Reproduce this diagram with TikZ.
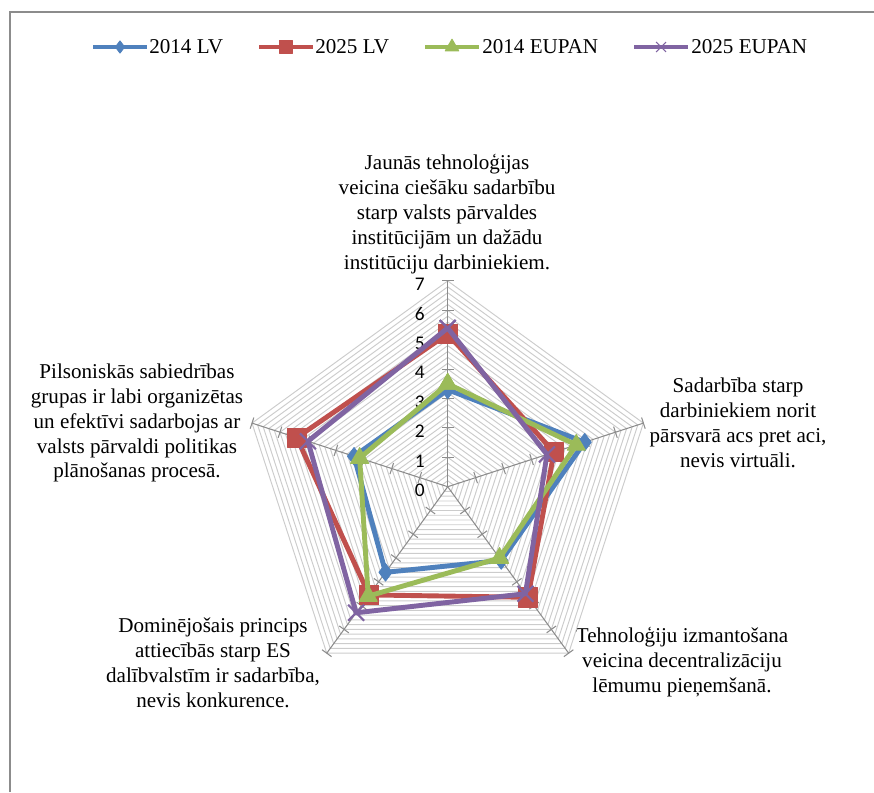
\documentclass[tikz,border=0pt]{standalone}
\usepackage{fontspec}
\setmainfont{Liberation Serif}
\newfontfamily\calib{Carlito}
\usetikzlibrary{plotmarks}
\definecolor{lvblue}{HTML}{4F81BD}
\definecolor{lvred}{HTML}{C0504D}
\definecolor{eugreen}{HTML}{9BBB59}
\definecolor{eupurple}{HTML}{8064A2}

\begin{document}
\begin{tikzpicture}[
			x = 0.02cm, y = -0.02cm,
			every node/.style = {font = \fontsize{12}{14.2}\selectfont},
			frameline/.style = {draw = black!45, line width = 1.2pt},
			webline/.style = {draw = black!20, line width = 0.55pt},
			spokeline/.style = {draw = black!45, line width = 0.6pt},
			axlbl/.style = {align = center, inner sep = 0pt},
			ticklbl/.style = {anchor = east, inner sep = 0pt, font = \calib\fontsize{11}{12}\selectfont},
			series/.style = {line width = 2.8pt, line join = round, mark options = {solid, line width = 0.5pt}},
			lvold/.style = {series, lvblue, mark = diamond*, mark size = 5pt},
			lvnew/.style = {series, lvred, mark = square*, mark size = 5.5pt},
			euold/.style = {series, eugreen, mark = triangle*, mark size = 6pt},
			eunew/.style = {series, eupurple, mark = x, mark size = 6.4pt, mark options = {solid, line width = 1.2pt}}
			]

			\useasboundingbox (0,0) rectangle (874,792);

			% frame of the chart area
			\draw[frameline] (10,792) -- (10,12) -- (874,12);

			% legend
			\draw[lvold, mark size = 3.5pt, mark indices = {2}] plot coordinates {(93,47) (120,47) (147,47)};
			\node[anchor = west, inner sep = 0pt] (leg1) at (149,47) {2014 LV};
			\draw[lvnew, mark size = 3.5pt, mark indices = {2}] plot coordinates {(259,47) (286,47) (313,47)};
			\node[anchor = west, inner sep = 0pt] (leg2) at (315,47) {2025 LV};
			\draw[euold, mark size = 4.5pt, mark indices = {2}] plot coordinates {(425,47) (452,47) (479,47)};
			\node[anchor = west, inner sep = 0pt] (leg3) at (482,47) {2014 EUPAN};
			\draw[eunew, mark size = 4pt, mark options = {solid, line width = 0.6pt}, mark indices = {2}] plot coordinates {(634,47) (661,47) (688,47)};
			\node[anchor = west, inner sep = 0pt] (leg4) at (691,47) {2025 EUPAN};

			% category labels
			\node[axlbl] (ctop) at (447,214) {Jaunās tehnoloģijas\\veicina ciešāku sadarbību\\starp valsts pārvaldes\\institūcijām un dažādu\\institūciju darbiniekiem.};
			\node[axlbl] (cright) at (738,423) {Sadarbība starp\\darbiniekiem norit\\pārsvarā acs pret aci,\\nevis virtuāli.};
			\node[axlbl] (clowr) at (682,662) {Tehnoloģiju izmantošana\\veicina decentralizāciju\\lēmumu pieņemšanā.};
			\node[axlbl] (clowl) at (213,663) {Dominējošais princips\\attiecībās starp ES\\dalībvalstīm ir sadarbība,\\nevis konkurence.};
			\node[axlbl] (cleft) at (137,423) {Pilsoniskās sabiedrības\\grupas ir labi organizētas\\un efektīvi sadarbojas ar\\valsts pārvaldi politikas\\plānošanas procesā.};

			\begin{scope}[shift = {(447.7,486.7)}, x = 0.588cm, y = 0.588cm]
				% web
				\foreach \i in {1,...,35}{
					\pgfmathsetmacro\r{\i/5}
					\draw[webline] (90:\r) -- (18:\r) -- (-54:\r) -- (-126:\r) -- (162:\r) -- cycle;
				}
				% spokes with ticks
				\foreach \a in {90,18,-54,-126,162}{
					\draw[spokeline] (0,0) -- (\a:7);
					\foreach \k in {1,...,7}
						\draw[spokeline, rotate = \a] (\k,-0.2) -- (\k,0.2);
				}
				\foreach \k in {0,...,7}
					\node[ticklbl] (t\k) at (-0.77,\k-0.12) {\k};

				% series
				\draw[lvold] plot coordinates {(90:3.3) (18:4.9) (-54:3.1) (-126:3.6) (162:3.35) (90:3.3)};
				\draw[lvnew] plot coordinates {(90:5.2) (18:3.8) (-54:4.65) (-126:4.55) (162:5.4) (90:5.2)};
				\draw[euold] plot coordinates {(90:3.5) (18:4.6) (-54:3.0) (-126:4.6) (162:3.15) (90:3.5)};
				\draw[eunew] plot coordinates {(90:5.4) (18:3.55) (-54:4.5) (-126:5.3) (162:5.0) (90:5.4)};
			\end{scope}

		\end{tikzpicture}
\end{document}
